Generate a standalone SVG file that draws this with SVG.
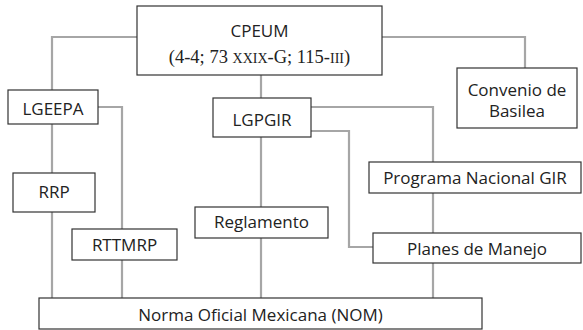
<svg xmlns="http://www.w3.org/2000/svg" width="583" height="330" viewBox="0 0 583 330">
<style>
.box{fill:#fff;stroke:#333;stroke-width:1.2}
.t{font-family:"Open Sans","Noto Sans",sans-serif;font-size:17px;fill:#222;text-anchor:middle}
.s{font-family:"Liberation Serif","DejaVu Serif",serif;font-size:18.5px;fill:#222;text-anchor:middle}
.sc{font-size:14px}
.c{fill:none;stroke:#a6a6a6;stroke-width:2.2}
</style>
<rect width="583" height="330" fill="#fff"/>
<g id="connectors">
<path class="c" d="M137 37 H52 V90"/>
<path class="c" d="M52 124 V173"/>
<path class="c" d="M52 212 V298"/>
<path class="c" d="M98 107 H122 V229"/>
<path class="c" d="M122 260 V298"/>
<path class="c" d="M261 75 V98"/>
<path class="c" d="M261 137 V207"/>
<path class="c" d="M261 238 V298"/>
<path class="c" d="M311 107 H433 V162"/>
<path class="c" d="M433 193 V233"/>
<path class="c" d="M433 263 V298"/>
<path class="c" d="M311 131 H349 V247 H373"/>
<path class="c" d="M382 37 H525 V68"/>
</g>
<g id="cpeum"><rect class="box" x="137" y="6" width="245" height="69"/><text class="t" x="259.5" y="37">CPEUM</text><text class="s" x="259.5" y="63">(4-4; 73 <tspan class="sc">XXIX</tspan>-G; 115-<tspan class="sc">III</tspan>)</text></g>
<g id="convenio"><rect class="box" x="457" y="68" width="120" height="60"/><text class="t" x="517" y="96">Convenio de</text><text class="t" x="517" y="117">Basilea</text></g>
<g id="lgeepa"><rect class="box" x="8" y="90" width="90" height="34"/><text class="t" x="53" y="115">LGEEPA</text></g>
<g id="lgpgir"><rect class="box" x="213" y="98" width="98" height="39"/><text class="t" x="262" y="126">LGPGIR</text></g>
<g id="rrp"><rect class="box" x="13" y="173" width="82" height="39"/><text class="t" x="54" y="198">RRP</text></g>
<g id="rttmrp"><rect class="box" x="72" y="229" width="105" height="31"/><text class="t" x="124.5" y="251">RTTMRP</text></g>
<g id="reglamento"><rect class="box" x="195" y="207" width="133" height="31"/><text class="t" x="261.5" y="228">Reglamento</text></g>
<g id="programa"><rect class="box" x="369" y="162" width="212" height="31"/><text class="t" x="475" y="184">Programa Nacional GIR</text></g>
<g id="planes"><rect class="box" x="373" y="233" width="208" height="30"/><text class="t" x="477" y="255">Planes de Manejo</text></g>
<g id="nom"><rect class="box" x="39" y="298" width="443" height="31"/><text class="t" x="260.5" y="321">Norma Oficial Mexicana (NOM)</text></g>
</svg>
